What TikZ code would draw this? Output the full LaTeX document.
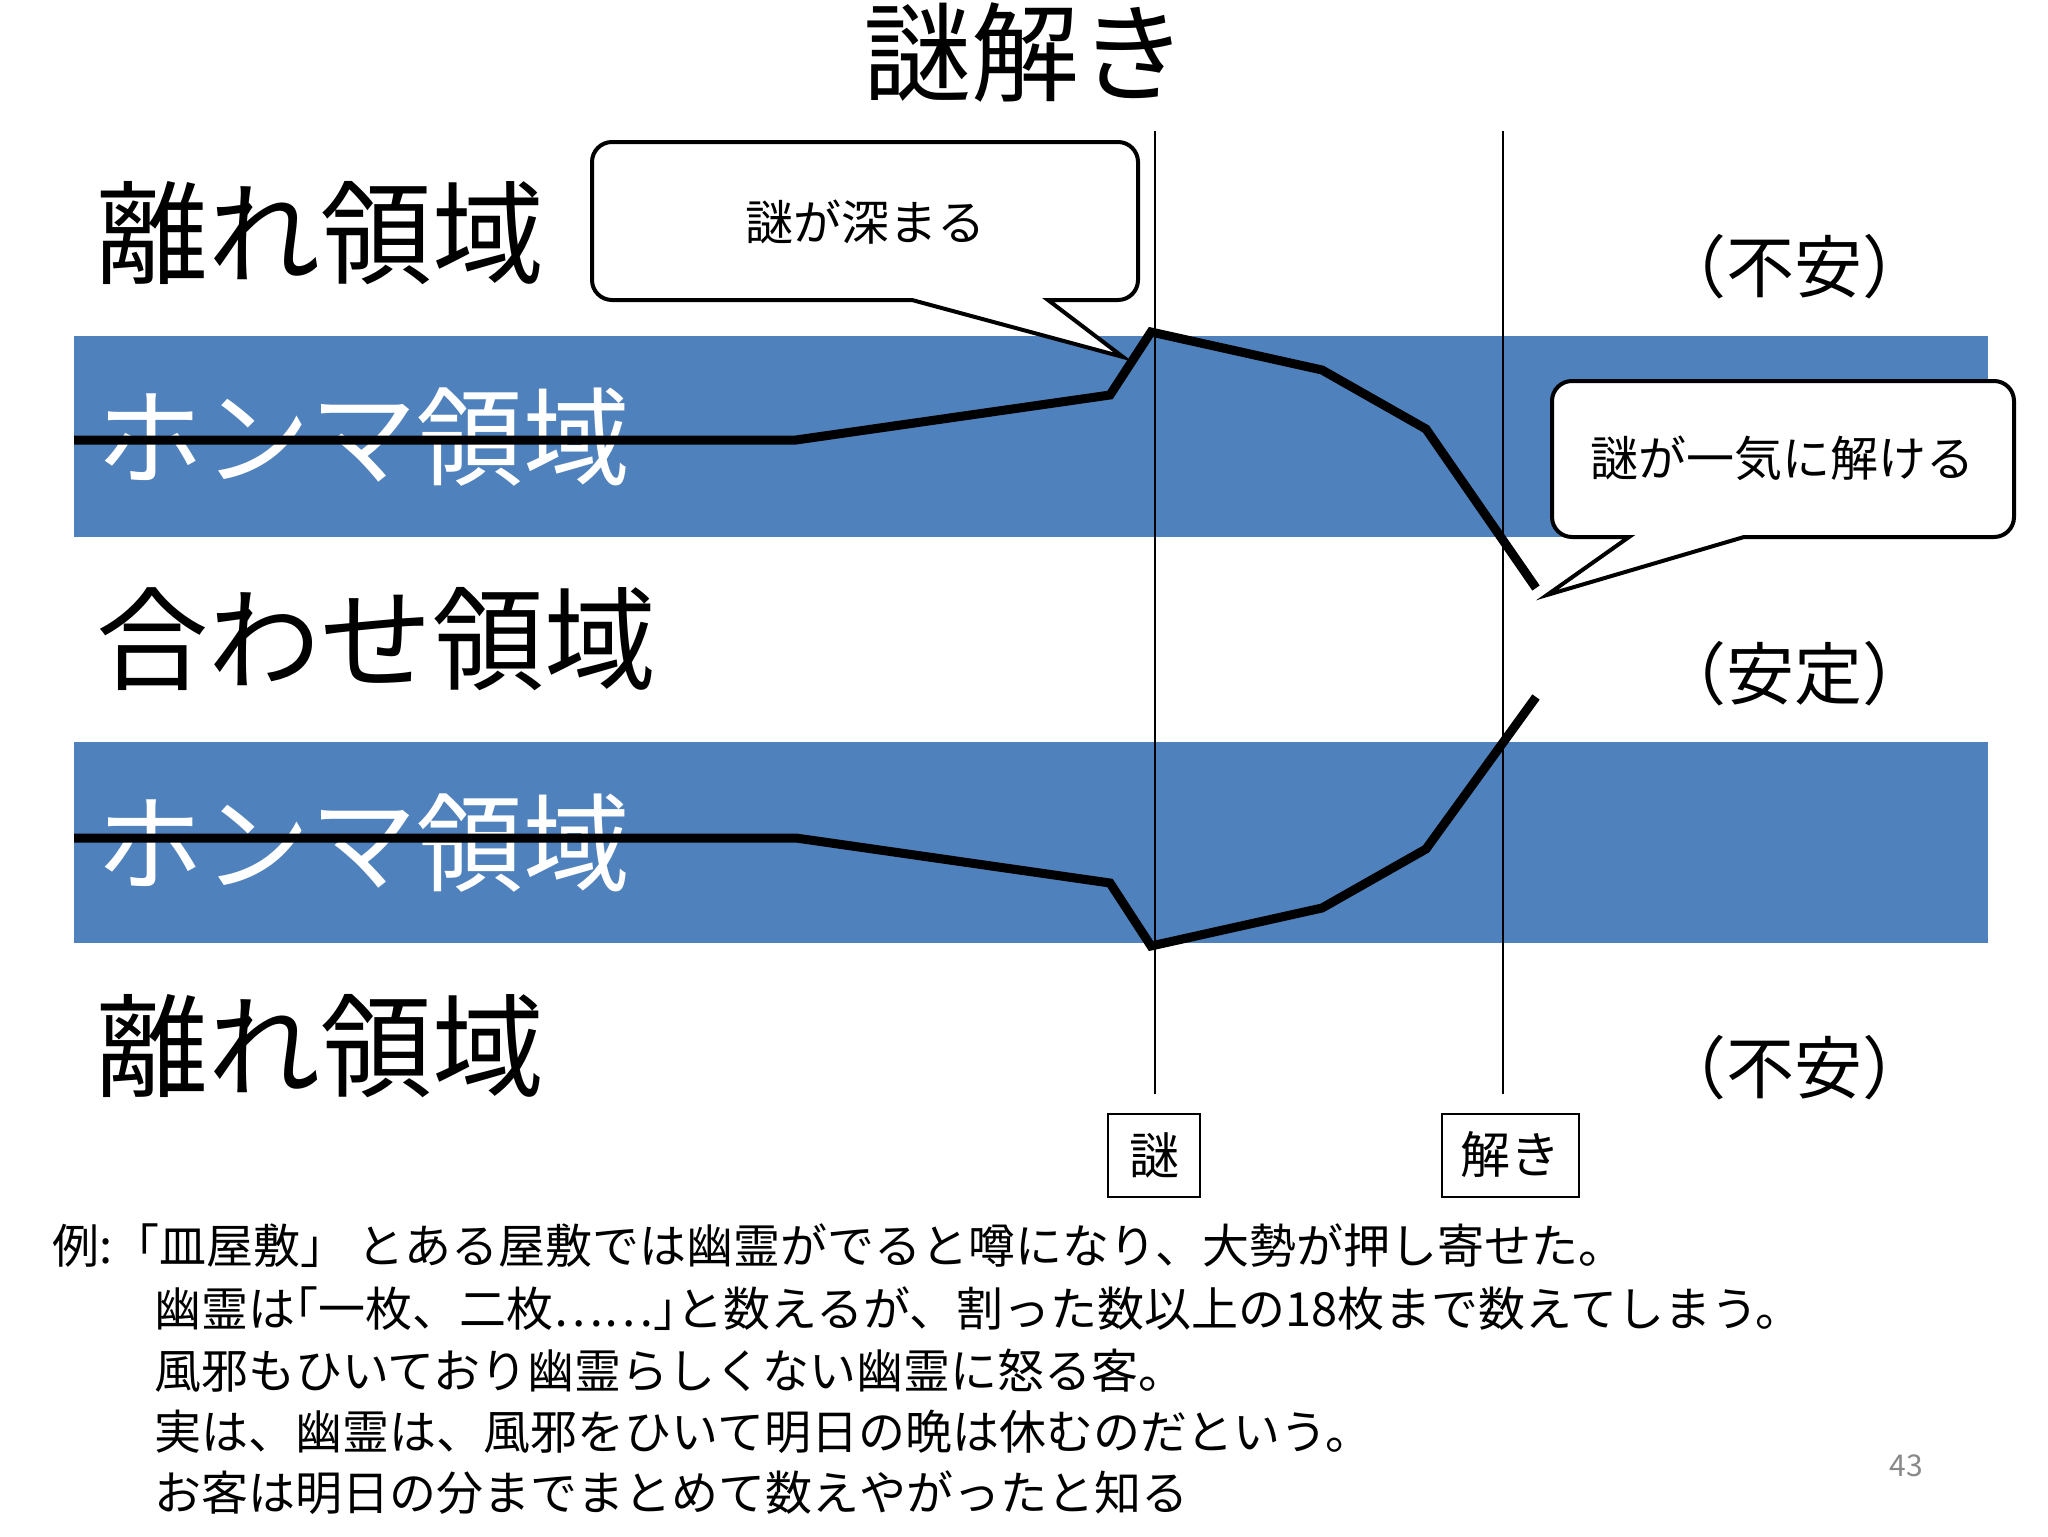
\documentclass[tikz,border=0pt]{standalone}
\usepackage{fontspec}
\setmainfont{Noto Sans CJK JP}
\usepackage{xcolor}
\definecolor{BandBlue}{RGB}{79,129,189}
\definecolor{PageGray}{RGB}{137,137,137}

\newcommand{\halfbr}[1]{{\addfontfeature{RawFeature=+halt}#1}}

\tikzset{
  band/.style={fill=BandBlue},
  arealabel/.style={anchor=west,inner sep=0pt,font=\fontsize{56pt}{60pt}\selectfont},
  honmalabel/.style={arealabel,text=white,font=\fontsize{53.4pt}{60pt}\selectfont},
  titletext/.style={inner sep=0pt,font=\fontsize{54pt}{60pt}\selectfont},
  moodtext/.style={inner sep=0pt,font=\fontsize{34pt}{38pt}\selectfont},
  bubbletext/.style={inner sep=0pt,font=\fontsize{24pt}{28pt}\selectfont},
  callout/.style={draw=black,line width=2pt,fill=white},
  guide/.style={draw=black,line width=0.8pt},
  curve/.style={draw=black,line width=4.5pt},
  markbox/.style={draw=black,line width=1pt,inner sep=0pt,minimum height=41.5pt,font=\fontsize{25pt}{28pt}\selectfont},
  storyline/.style={anchor=west,inner sep=0pt,font=\fontsize{23.5pt}{26pt}\selectfont},
  pagenum/.style={inner sep=0pt,text=PageGray,font=\fontsize{15pt}{18pt}\selectfont}
}

\begin{document}
\begin{tikzpicture}[x=0.5pt,y=0.5pt,yscale=-1,xscale=1]
%set diagram size 2048 x 1536
\path[use as bounding box,fill=white] (0,0) rectangle (2048,1536);

%Shape: Rectangle [blue bands]
\fill[band] (74,336) rectangle (1988,537);
\fill[band] (74,742) rectangle (1988,943);

% Text Node
\node[titletext] (title) at (1025,53) {謎解き};
% Text Node
\node[arealabel] (farTop) at (96,233) {離れ領域};
% Text Node
\node[honmalabel] (honmaTop) at (96,437) {ホンマ領域};
% Text Node
\node[arealabel] (match) at (96,639) {合わせ領域};
% Text Node
\node[honmalabel] (honmaBot) at (96,843) {ホンマ領域};
% Text Node
\node[arealabel] (farBot) at (96,1046) {離れ領域};

% Text Node
\node[moodtext] (uneasyTop) at (1794,267) {（不安）};
% Text Node
\node[moodtext] (stable) at (1794,674) {（安定）};
% Text Node
\node[moodtext] (uneasyBot) at (1794,1068) {（不安）};

%Straight Lines [guides]
\coordinate (nazoTop) at (1155,131);
\coordinate (nazoBot) at (1155,1094);
\coordinate (tokiTop) at (1503,131);
\coordinate (tokiBot) at (1503,1094);
\draw[guide] (nazoTop) -- (nazoBot);
\draw[guide] (tokiTop) -- (tokiBot);

%Straight Lines [upper curve]
\draw[curve] (74,440) -- (796,440) -- (1110,395) -- (1151,332) -- (1322,370) -- (1426,429) -- (1536,588);
%Straight Lines [lower curve]
\draw[curve] (74,838) -- (796,838) -- (1110,883) -- (1151,946) -- (1322,908) -- (1426,849) -- (1536,697);

%Shape: Callout
\draw[callout] (592,220) [rounded corners=10pt] -- (592,142) -- (1138,142) -- (1138,300) -- (1080,300) [sharp corners] -- (1048,300) -- (1123,357) -- (912,300) -- (880,300) [rounded corners=10pt] -- (592,300) -- cycle;
% Text Node
\node[bubbletext] (deepen) at (865,222) {謎が深まる};

%Shape: Callout
\draw[callout] (1552,460) [rounded corners=10pt] -- (1552,381) -- (2014,381) -- (2014,537) -- (1775,537) [sharp corners] -- (1744,537) -- (1547,595) -- (1629,537) -- (1600,537) [rounded corners=10pt] -- (1552,537) -- cycle;
% Text Node
\node[bubbletext] (solve) at (1782,458) {謎が一気に解ける};

% Text Node
\node[markbox,minimum width=46pt] (nazo) at (1154,1155) {謎};
% Text Node
\node[markbox,minimum width=68.5pt] (toki) at (1510,1155) {解き};

% Text Node
\node[storyline] (story1) at (52,1246) {例:「皿屋敷」 とある屋敷では幽霊がでると噂になり、大勢が押し寄せた。};
\node[storyline] (story2) at (154,1309) {幽霊は\halfbr{「}一枚、二枚……\halfbr{」}と数えるが、割った数以上の18枚まで数えてしまう。};
\node[storyline] (story3) at (154,1371) {風邪もひいており幽霊らしくない幽霊に怒る客。};
\node[storyline] (story4) at (154,1432) {実は、幽霊は、風邪をひいて明日の晩は休むのだという。};
\node[storyline] (story5) at (154,1493) {お客は明日の分までまとめて数えやがったと知る};

% Text Node
\node[pagenum] (page) at (1906,1466) {43};

\end{tikzpicture}
\end{document}
